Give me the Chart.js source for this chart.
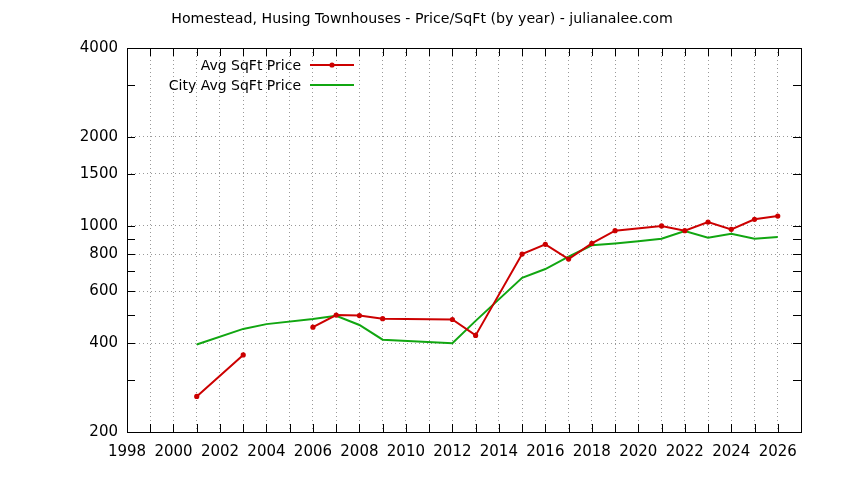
<!DOCTYPE html>
<html><head><meta charset="utf-8">
<script src="https://cdn.jsdelivr.net/npm/chart.js@4.4.1/dist/chart.umd.min.js"></script>
<style>html,body{margin:0;padding:0;background:#fff}#wrap{width:844px;height:480px;position:relative}</style>
</head><body><div id="wrap"><canvas id="c" width="844" height="480"></canvas></div>
<script>
const chartTitle = "Homestead, Husing Townhouses - Price/SqFt (by year) - julianalee.com";
const avgLabel = "Avg SqFt Price";
const cityLabel = "City Avg SqFt Price";
// Avg SqFt Price (null = break in the line)
const avgYears  = [2001, 2003, 2005, 2006, 2007, 2008, 2009, 2012, 2013, 2015, 2016, 2017, 2018, 2019, 2021, 2022, 2023, 2024, 2025, 2026];
const avgPrices = [264,  365,  null, 453,  498,  496,  484,  481,  425,  802,  865,  771,  871,  962,  998,  962,  1029, 972,  1051, 1078];
// City Avg SqFt Price
const cityYears  = [2001, 2003, 2004, 2006, 2007, 2008, 2009, 2012, 2013, 2015, 2016, 2017, 2018, 2019, 2020, 2021, 2022, 2023, 2024, 2025, 2026];
const cityPrices = [396,  447,  464,  483,  495,  461,  411,  400,  476,  666,  713,  785,  858,  870,  885,  903,  959,  910,  939,  903,  915];
const yTickValues  = [200, 300, 400, 500, 600, 700, 800, 900, 1000, 1500, 2000, 3000, 4000];
const yLabelValues = [200, 400, 600, 800, 1000, 1500, 2000, 4000];
const xMin = 1998, xMax = 2027;

const FONT = "DejaVu Sans";
const RED = "#cc0000", GREEN = "#11a611";

function pts(xs, ys){ return xs.map((x,i)=>({x:x, y:ys[i]})); }

const boxPlugin = {
  id: 'gnuplotBox',
  afterDatasetsDraw(chart){
    const ctx = chart.ctx, a = chart.chartArea;
    const xs = chart.scales.x, ys = chart.scales.y;
    const L = 8;
    ctx.save();
    ctx.strokeStyle = '#000'; ctx.lineWidth = 1;
    ctx.beginPath();
    for (let v = xMin; v <= xMax; v++) {
      const px = Math.round(xs.getPixelForValue(v)) + 0.5;
      ctx.moveTo(px, a.bottom); ctx.lineTo(px, a.bottom - L);
      ctx.moveTo(px, a.top); ctx.lineTo(px, a.top + L);
    }
    yTickValues.forEach(v => {
      const py = Math.round(ys.getPixelForValue(v)) + 0.5;
      ctx.moveTo(a.left, py); ctx.lineTo(a.left + L, py);
      ctx.moveTo(a.right, py); ctx.lineTo(a.right - L, py);
    });
    ctx.stroke();
    ctx.strokeRect(Math.round(a.left)+0.5, Math.round(a.top)+0.5, Math.round(a.right-a.left), Math.round(a.bottom-a.top));
    // title
    ctx.fillStyle = '#000'; ctx.textAlign = 'center'; ctx.textBaseline = 'middle';
    ctx.font = "14.2px '" + FONT + "'";
    ctx.fillText(chartTitle, 422, 19);
    // legend
    ctx.font = "14px '" + FONT + "'";
    ctx.textAlign = 'right';
    const items = [[avgLabel, RED, true, 65], [cityLabel, GREEN, false, 85]];
    items.forEach(([t, col, marker, y]) => {
      ctx.fillText(t, 301, y + 1);
      ctx.strokeStyle = col; ctx.lineWidth = 2;
      ctx.beginPath(); ctx.moveTo(310, y); ctx.lineTo(354, y); ctx.stroke();
      if (marker) { ctx.fillStyle = col; ctx.beginPath(); ctx.arc(332, y, 2.6, 0, Math.PI*2); ctx.fill(); ctx.fillStyle = '#000'; }
    });
    ctx.restore();
  }
};

new Chart(document.getElementById('c'), {
  type: 'line',
  data: {
    datasets: [
      { label: avgLabel, data: pts(avgYears, avgPrices), borderColor: RED, backgroundColor: RED,
        borderWidth: 2, pointRadius: 2.6, pointHoverRadius: 2.6, pointBorderWidth: 0, spanGaps: false, tension: 0 },
      { label: cityLabel, data: pts(cityYears, cityPrices), borderColor: GREEN, backgroundColor: GREEN,
        borderWidth: 2, pointRadius: 0, spanGaps: false, tension: 0 }
    ]
  },
  options: {
    responsive: false, animation: false, devicePixelRatio: 1,
    layout: { padding: { left: 0, right: 43, top: 48, bottom: 0 } },
    plugins: {
      legend: { display: false }, tooltip: { enabled: false }, title: { display: false }
    },
    scales: {
      x: {
        type: 'linear', min: xMin, max: xMax,
        afterFit(s){ s.height = 48; },
        afterBuildTicks(s){ const t=[]; for(let v=xMin; v<=xMax; v++) t.push({value:v}); s.ticks = t; },
        ticks: { autoSkip: false, maxRotation: 0, padding: 11, color: '#000',
          font: { family: FONT, size: 15 },
          callback: v => (v % 2 === 0 && v < xMax) ? String(v) : '' },
        grid: { drawTicks: false, color: '#999', lineWidth: 1 },
        border: { display: false, dash: [1, 3] }
      },
      y: {
        type: 'logarithmic', min: 200, max: 4000,
        afterFit(s){ s.width = 127; },
        afterBuildTicks(s){ s.ticks = yTickValues.map(v => ({value: v})); },
        ticks: { autoSkip: false, padding: 9, color: '#000',
          font: { family: FONT, size: 15 },
          callback: v => yLabelValues.includes(v) ? String(v) : '' },
        grid: { drawTicks: false, lineWidth: 1,
          color: c => (c.tick && yLabelValues.includes(c.tick.value)) ? '#999' : 'rgba(0,0,0,0)' },
        border: { display: false, dash: [1, 3] }
      }
    }
  },
  plugins: [boxPlugin]
});
</script></body></html>
